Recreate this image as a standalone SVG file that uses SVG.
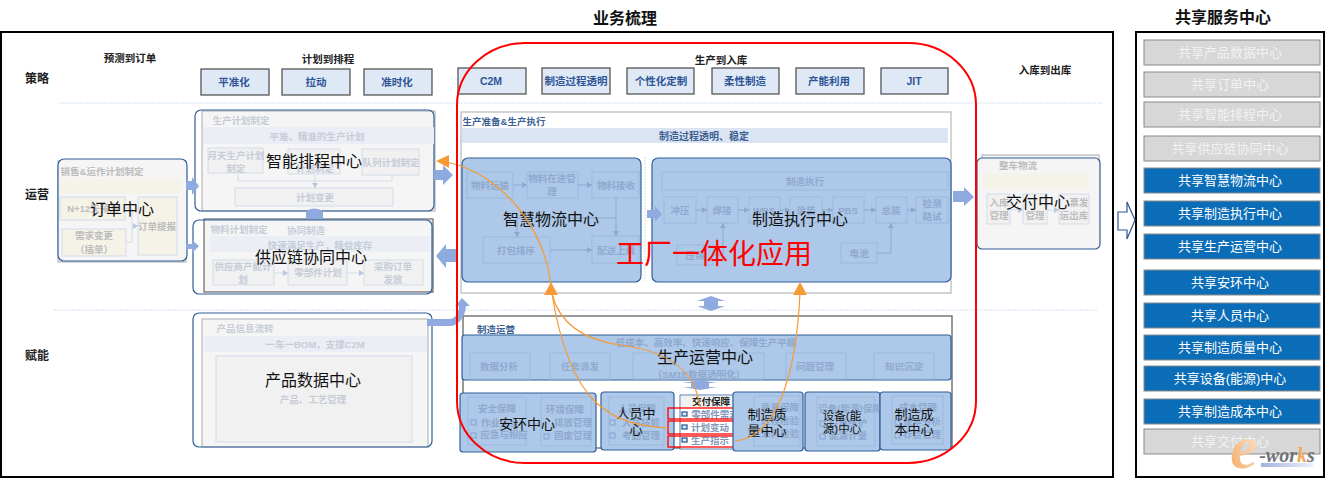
<svg xmlns="http://www.w3.org/2000/svg" width="1325" height="479" viewBox="0 0 1325 479">
<defs>
<marker id="sb" markerUnits="userSpaceOnUse" markerWidth="6" markerHeight="6" refX="5" refY="3" orient="auto"><path d="M0 0L5 3L0 6Z" fill="#8fa8ce"/></marker>
<marker id="sg" markerUnits="userSpaceOnUse" markerWidth="6" markerHeight="6" refX="5" refY="3" orient="auto"><path d="M0 0L5 3L0 6Z" fill="#b9c7df"/></marker>
<linearGradient id="eg" x1="0" y1="1" x2="1" y2="0"><stop offset="0" stop-color="#f4a860"/><stop offset="1" stop-color="#fbe8d8"/></linearGradient>
<linearGradient id="wb" x1="0" y1="0" x2="1" y2="0"><stop offset="0" stop-color="#9fb2e0"/><stop offset="1" stop-color="#eef1fa"/></linearGradient>
</defs>
<style>
text{font-family:"Liberation Sans","Noto Sans CJK SC",sans-serif;text-anchor:middle}
.t{font-size:16px;fill:#111}
.m{font-size:13px;fill:#111}
.h{font-size:10.5px;font-weight:700;fill:#222}
.s{font-size:10.5px;font-weight:700;fill:#2f5597}
.g{font-size:9.5px;font-weight:700;fill:#c6ccd8}
.gd{font-size:9.5px;font-weight:700;fill:#bcbcbc}
.g2{font-size:9.5px;font-weight:700;fill:#8fa8ce}
.dt{font-size:9.5px;font-weight:700;fill:#8296b8}
.sq{fill:#dfe9f6;stroke:#555;stroke-width:1.3}
.pb{fill:#f5f5f5;stroke:#b8b8b8;stroke-width:1.2}
.nb{fill:#f5f5f5;stroke:#2f5f98;stroke-width:1.2}
.nf{fill:none;stroke:#2f5f98;stroke-width:1.2}
.ib{fill:#f1f1f1;stroke:#d3dbe9;stroke-width:1}
.bb{fill:#adc8e8;stroke:#2f5f98;stroke-width:1.2}
.ob{fill:#adc8e8;stroke:#9bb8de;stroke-width:1}
.ck{fill:none;stroke:#86a3cf;stroke-width:1}
.hd{fill:#ebeef4}
.cream{fill:#f5f2e8}
.cb{fill:#f5f2e8;stroke:#d3dbe9}
.dl{stroke:#cfe0f2;stroke-width:1;stroke-dasharray:2 1;fill:none}
.ba{fill:#8eaadf}
.ln{stroke:#d3dbe9;fill:none}
.lb{stroke:#8fa8ce;fill:none}
.gy{fill:#d7d7d7;stroke:#8a8a8a;stroke-width:1}
.bl{fill:#0b6db7;stroke:#8a8a8a;stroke-width:1}
.st{font-size:13px}
.ow{fill:none;stroke:#f79a35;stroke-width:1.2}
.oh{fill:#f79a35}
.rb{fill:none;stroke:#f00;stroke-width:1.3}
.rr{fill:none;stroke:#f00;stroke-width:2}
</style>
<rect width="1325" height="479" fill="#fff"/>
<text x="625" y="24" font-size="16" font-weight="700" fill="#111">业务梳理</text>
<text x="1223" y="23" font-size="16" font-weight="700" fill="#111">共享服务中心</text>
<rect x="1" y="32" width="1112" height="445" fill="none" stroke="#000" stroke-width="2"/>
<rect x="1136" y="32" width="188" height="445" fill="none" stroke="#000" stroke-width="2"/>
<text class="h" x="130" y="62">预测到订单</text><text class="h" x="328" y="63">计划到排程</text><text class="h" x="721" y="64">生产到入库</text><text class="h" x="1045" y="74">入库到出库</text>
<g font-size="12" font-weight="700" fill="#222"><text x="37" y="83">策略</text><text x="37" y="199">运营</text><text x="37" y="360">赋能</text></g>
<path class="dl" d="M59 103H1103M54 310H1098"/>
<g id="strategy">
<rect class="sq" x="201" y="69" width="68" height="26"/><text class="s" x="234" y="86">平准化</text>
<rect class="sq" x="282" y="69" width="68" height="26"/><text class="s" x="316" y="86">拉动</text>
<rect class="sq" x="364" y="69" width="68" height="26"/><text class="s" x="397" y="86">准时化</text>
<rect class="sq" x="458" y="68" width="68" height="26"/><text class="s" x="491" y="85">C2M</text>
<rect class="sq" x="542" y="68" width="68" height="26"/><text class="s" x="576" y="85">制造过程透明</text>
<rect class="sq" x="627" y="68" width="67" height="26"/><text class="s" x="661" y="85">个性化定制</text>
<rect class="sq" x="712" y="68" width="67" height="26"/><text class="s" x="745" y="85">柔性制造</text>
<rect class="sq" x="796" y="68" width="68" height="26"/><text class="s" x="829" y="85">产能利用</text>
<rect class="sq" x="881" y="68" width="67" height="26"/><text class="s" x="914" y="85">JIT</text>
</g>
<g id="order-center">
<rect class="pb" x="58" y="161" width="128" height="101"/>
<rect class="nb" x="58" y="159" width="129" height="102" rx="6"/>
<text class="gd" x="102" y="175">销售&amp;运作计划制定</text>
<rect class="cream" x="60" y="179" width="120" height="15"/>
<rect class="cb" x="60" y="197" width="65" height="23"/><text class="gd" x="93" y="212">N+12天预测</text>
<rect class="cb" x="62" y="229" width="64" height="27"/><text class="gd" x="94" y="239">需求变更</text><text class="gd" x="94" y="253">（插单）</text>
<rect class="cb" x="138" y="197" width="39" height="58"/><text class="gd" x="157" y="230">订单提报</text>
<path class="ln" d="M125 208H132V226M126 242H132V226"/><path class="ln" d="M132 226H138" marker-end="url(#sg)"/>
<text class="t" x="122" y="215">订单中心</text>
</g>
<g id="schedule-center">
<rect class="pb" x="202" y="111" width="233" height="100"/>
<rect class="nf" x="195" y="110" width="239" height="101" rx="6"/>
<text class="g" x="241" y="124">生产计划制定</text>
<rect class="hd" x="203" y="127" width="231" height="17"/><text class="g" x="317" y="140">平准、精准的生产计划</text>
<rect class="ib" x="208" y="148" width="55" height="25"/><text class="g" x="236" y="159">月天生产计划</text><text class="g" x="236" y="172">制定</text>
<rect class="ib" x="288" y="149" width="52" height="25"/><text class="g" x="315" y="172">计划制定</text>
<rect class="ib" x="362" y="149" width="57" height="26"/><text class="g" x="391" y="166">队列计划制定</text>
<rect class="ib" x="235" y="188" width="158" height="18"/><text class="g" x="315" y="201">计划变更</text>
<path class="ln" d="M238 181H392"/>
<path class="ln" d="M238 181V174M315 181V175M392 181V175M315 181V188" marker-end="url(#sg)"/>
<text class="t" x="314" y="167">智能排程中心</text>
</g>
<g id="supply-center">
<rect class="pb" x="204" y="219" width="229" height="73" style="stroke:#666"/>
<rect class="nf" x="193" y="220" width="239" height="74" rx="6"/>
<text class="g" x="239" y="233">物料计划制定</text><text class="g" x="306" y="234">协同制造</text>
<rect class="hd" x="210" y="236" width="220" height="16"/><text class="g" x="320" y="249">快速满足生产，精益库存</text>
<rect class="ib" x="213" y="260" width="61" height="25"/><text class="g" x="243" y="270">供应商产能计</text><text class="g" x="243" y="283">划</text>
<rect class="ib" x="288" y="260" width="59" height="25"/><text class="g" x="318" y="276">零部件计划</text>
<rect class="ib" x="364" y="260" width="59" height="25"/><text class="g" x="393" y="270">采购订单</text><text class="g" x="393" y="283">发放</text>
<path class="ln" d="M274 273H288" marker-end="url(#sg)"/><path class="ln" d="M347 273H364" marker-end="url(#sg)"/>
<text class="t" x="311" y="263">供应链协同中心</text>
</g>
<g id="product-center">
<rect class="pb" x="202" y="319" width="226" height="128"/>
<rect class="nf" x="193" y="313" width="239" height="134" rx="6"/>
<text class="g" x="245" y="332">产品信息流转</text>
<rect class="hd" x="204" y="336" width="223" height="16"/><text class="g" x="315" y="348">一车一BOM，支撑C2M</text>
<rect class="ib" x="216" y="356" width="196" height="86"/>
<text class="t" x="313" y="386">产品数据中心</text>
<text class="g" x="313" y="403">产品、工艺管理</text>
</g>
<g id="delivery-center">
<rect class="pb" x="982" y="155" width="117" height="90"/>
<rect class="nb" x="977" y="158" width="123" height="91" rx="5"/>
<text class="gd" x="1018" y="169">整车物流</text>
<rect class="cream" x="983" y="173" width="105" height="15"/>
<rect class="ib" x="987" y="194" width="23" height="30"/><text class="gd" x="999" y="206">入库</text><text class="gd" x="999" y="219">管理</text>
<rect class="ib" x="1023" y="194" width="24" height="30"/><text class="gd" x="1035" y="219">管理</text>
<rect class="ib" x="1059" y="194" width="30" height="30"/><text class="gd" x="1079" y="206">票发</text><text class="gd" x="1074" y="219">运出库</text>
<path class="ln" d="M1010 210H1023" marker-end="url(#sg)"/><path class="ln" d="M1047 210H1059" marker-end="url(#sg)"/>
<text class="t" x="1038" y="208">交付中心</text>
</g>
<g id="production-exec">
<rect x="461" y="112" width="490" height="181" fill="#fff" stroke="#b8b8b8" stroke-width="1.2"/>
<text font-size="9.5" font-weight="700" fill="#3c5f94" x="504" y="125">生产准备&amp;生产执行</text>
<rect x="462" y="128" width="486" height="15" fill="#dbe4f3"/><text font-size="10" font-weight="700" fill="#3c5f94" x="704" y="140">制造过程透明、稳定</text>
<path class="dl" d="M645 157V281"/>
</g>
<g id="logistics-center">
<rect class="bb" x="462" y="158" width="179" height="124" rx="6"/>
<rect class="ob" x="467" y="172" width="46" height="26"/><rect class="ob" x="527" y="172" width="51" height="26"/><rect class="ob" x="592" y="172" width="47" height="26"/><rect class="ob" x="483" y="237" width="67" height="26"/><rect class="ob" x="592" y="236" width="47" height="27"/>
<text class="g2" x="490" y="189">物料运输</text><text class="g2" x="552" y="182">物料在途管</text><text class="g2" x="552" y="195">理</text><text class="g2" x="616" y="189">物料接收</text><text class="g2" x="516" y="254">打包排序</text><text class="g2" x="616" y="254">配送上线</text>
<path class="lb" d="M513 185H527" marker-end="url(#sb)"/><path class="lb" d="M578 185H592" marker-end="url(#sb)"/><path class="lb" d="M616 198V236" marker-end="url(#sb)"/><path class="lb" d="M616 218H517V237" marker-end="url(#sb)"/><path class="lb" d="M550 250H592" marker-end="url(#sb)"/>
<text class="t" x="551" y="225">智慧物流中心</text>
</g>
<g id="mes-center">
<rect class="bb" x="652" y="158" width="299" height="124" rx="6"/>
<rect class="ob" x="662" y="172" width="286" height="18"/>
<rect class="ob" x="664" y="197" width="32" height="26"/><rect class="ob" x="707" y="197" width="31" height="26"/><rect class="ob" x="749" y="197" width="31" height="26"/><rect class="ob" x="790" y="197" width="32" height="26"/><rect class="ob" x="833" y="197" width="31" height="26"/><rect class="ob" x="876" y="197" width="31" height="26"/><rect class="ob" x="916" y="197" width="32" height="26"/><rect class="ob" x="677" y="245" width="36" height="20"/><rect class="ob" x="841" y="243" width="36" height="20"/>
<text class="g2" x="805" y="185">制造执行</text><text class="g2" x="680" y="214">冲压</text><text class="g2" x="722" y="214">焊接</text><text class="g2" x="764" y="214">WBS</text><text class="g2" x="806" y="214">涂装</text><text class="g2" x="848" y="214">PBS</text><text class="g2" x="891" y="214">总装</text><text class="g2" x="932" y="207">检测</text><text class="g2" x="932" y="220">路试</text><text class="g2" x="695" y="259">压铸</text><text class="g2" x="859" y="257">电池</text>
<path class="lb" d="M696 210H707" marker-end="url(#sb)"/><path class="lb" d="M738 210H749" marker-end="url(#sb)"/><path class="lb" d="M780 210H790" marker-end="url(#sb)"/><path class="lb" d="M822 210H833" marker-end="url(#sb)"/><path class="lb" d="M864 210H876" marker-end="url(#sb)"/><path class="lb" d="M907 210H916" marker-end="url(#sb)"/><path class="lb" d="M713 255H723V223" marker-end="url(#sb)"/><path class="lb" d="M877 253H891V223" marker-end="url(#sb)"/>
<text class="t" x="800" y="225">制造执行中心</text>
</g>
<g id="ops-center">
<rect x="463" y="316" width="489" height="132" fill="#fff" stroke="#555" stroke-width="1.2"/>
<text font-size="9.5" font-weight="700" fill="#3c5f94" x="496" y="333">制造运营</text>
<rect class="bb" x="462" y="335" width="489" height="45" rx="3"/>
<text class="g2" x="706" y="346">低成本、高效率、快速响应、保障生产平顺</text>
<rect class="ob" x="470" y="353" width="60" height="26"/><rect class="ob" x="550" y="353" width="60" height="26"/><rect class="ob" x="633" y="353" width="131" height="26"/><rect class="ob" x="786" y="353" width="60" height="26"/><rect class="ob" x="874" y="353" width="60" height="26"/>
<text class="g2" x="499" y="370">数据分析</text><text class="g2" x="580" y="370">任务派发</text><text class="g2" x="699" y="378">（SM1E数据透明化）</text><text class="g2" x="815" y="370">问题管理</text><text class="g2" x="904" y="370">知识沉淀</text>
<text class="t" x="705" y="363">生产运营中心</text>
</g>
<g id="safety-center">
<rect class="bb" x="460" y="393" width="136" height="59" rx="3"/>
<rect class="ob" x="468" y="397" width="58" height="48"/><rect class="ob" x="541" y="397" width="50" height="49"/>
<rect class="ck" x="471" y="420" width="5" height="5"/><rect class="ck" x="471" y="433" width="5" height="5"/><rect class="ck" x="544" y="434" width="5" height="5"/>
<text class="g2" x="497" y="412">安全保障</text><text class="g2" x="565" y="413">环境保障</text><text class="g2" x="500" y="426">作业安全</text><text class="g2" x="504" y="438">应急与相应</text><text class="g2" x="573" y="426">排放管理</text><text class="g2" x="573" y="439">固废管理</text>
<text font-size="14" fill="#111" x="527" y="429">安环中心</text>
</g>
<g id="people-center">
<rect class="bb" x="601" y="392" width="73" height="58" rx="3"/>
<rect class="ob" x="609" y="397" width="55" height="48"/>
<rect class="ck" x="610" y="420" width="5" height="5"/><rect class="ck" x="610" y="433" width="5" height="5"/>
<text class="g2" x="637" y="412">人员保障</text><text class="g2" x="641" y="426">人员技能</text><text class="g2" x="641" y="439">考勤管理</text>
<text class="m" x="636" y="418">人员中</text><text class="m" x="636" y="434">心</text>
</g>
<g id="delivery-support">
<rect x="680" y="395" width="62" height="54" fill="#fff" stroke="#5f7fae"/>
<rect x="681" y="396" width="52" height="11" fill="#f1f1f1"/>
<text class="h" x="711" y="405" style="font-size:9.5px">交付保障</text>
<text class="dt" x="715" y="418">零部件需求</text><text class="dt" x="710" y="431">计划变动</text><text class="dt" x="710" y="444">生产指示</text>
<g fill="#dfe9f6" stroke="#2f5f98" stroke-width="1.3"><rect x="682" y="412" width="5" height="4"/><rect x="682" y="425" width="5" height="4"/><rect x="682" y="438" width="5" height="4"/></g>
<rect class="rb" x="668" y="408" width="66" height="11"/><rect class="rb" x="668" y="421" width="66" height="13"/><rect class="rb" x="668" y="436" width="66" height="11"/>
</g>
<g id="quality-center">
<rect class="bb" x="733" y="392" width="70" height="59" rx="3"/>
<rect class="ob" x="754" y="396" width="46" height="50"/>
<text class="g2" x="780" y="411">质量保障</text><text class="g2" x="780" y="424">过程检验</text><text class="g2" x="780" y="437">来料检验</text>
<text class="m" x="767" y="419">制造质</text><text class="m" x="767" y="435">量中心</text>
</g>
<g id="equipment-center">
<rect class="bb" x="805" y="392" width="75" height="59" rx="3"/>
<rect class="ob" x="817" y="397" width="58" height="49"/>
<rect class="ck" x="820" y="421" width="5" height="5"/><rect class="ck" x="820" y="434" width="5" height="5"/>
<text class="g2" x="850" y="412">设备(能源)保障</text><text class="g2" x="848" y="426">设备维护</text><text class="g2" x="848" y="439">能源计量</text>
<text font-size="11.5" fill="#111" x="842" y="420">设备(能</text><text font-size="11.5" fill="#111" x="842" y="433">源)中心</text>
</g>
<g id="cost-center">
<rect class="bb" x="880" y="392" width="71" height="58" rx="3"/>
<rect class="ob" x="892" y="396" width="51" height="48"/>
<rect class="ck" x="895" y="420" width="5" height="5"/><rect class="ck" x="895" y="433" width="5" height="5"/>
<text class="g2" x="918" y="411">成本管理</text><text class="g2" x="922" y="425">成本分析</text><text class="g2" x="922" y="438">存货管理</text>
<text class="m" x="914" y="419">制造成</text><text class="m" x="914" y="434">本中心</text>
</g>
<g id="connectors">
<path class="ba" d="M186 181H192V177L199 186L192 195V190H186Z"/>
<path class="ba" d="M186 244H192V240L199 246L192 253V249H186Z"/>
<path class="ba" d="M434 170H443V165L453 175L443 185V180H434Z"/>
<path class="ba" d="M306 211Q314 206 323 211V219H306Z"/>
<path class="ba" d="M436 256L446 244V249H456V262H446V268Z"/>
<path class="ba" d="M953 191H964V187L974 197L964 206V202H953Z"/>
<path class="ba" d="M647 210H655V206L662 214L655 222V218H647Z"/>
<path class="ba" d="M427 319H450V326H427Z"/>
<path class="ba" d="M462 298L470 306H466C465 318 458 326 450 326V319C456 318 459 312 459 306H455Z"/>
<path class="ba" d="M711 296L725 301H718V306H725L711 311L697 306H704V301H697Z"/>
<path class="ba" d="M700 380L717 383H709V387H717L700 390L683 387H691V383H683Z"/>
<path d="M1118 212H1127V202L1135 220L1127 239V230H1118Z" fill="#fff" stroke="#2f5597" stroke-width="1.2"/>
<path class="ow" d="M551 290C548 230 500 172 446 162"/>
<path class="ow" d="M668 428C610 425 570 405 552 294"/>
<path class="ow" d="M700 407C695 365 660 350 620 345C585 340 560 325 552 294"/>
<path class="ow" d="M735 441C775 438 796 380 800 293"/>
<path class="oh" d="M436 161L449 155V168Z"/>
<path class="oh" d="M551 282L558 295H544Z"/>
<path class="oh" d="M800 282L807 295H793Z"/>
</g>
<text x="714" y="264" font-size="28" fill="#f00">工厂一体化应用</text>
<rect class="rr" x="457" y="43" width="519" height="420" rx="68" ry="62"/>
<g id="shared">
<rect class="gy" x="1144" y="40" width="176" height="25"/><text class="st" x="1230" y="57" style="fill:#f2f2f2">共享产品数据中心</text>
<rect class="gy" x="1144" y="72" width="176" height="25"/><text class="st" x="1230" y="89" style="fill:#f2f2f2">共享订单中心</text>
<rect class="gy" x="1144" y="102" width="176" height="25"/><text class="st" x="1230" y="119" style="fill:#f2f2f2">共享智能排程中心</text>
<rect class="gy" x="1144" y="136" width="176" height="25"/><text class="st" x="1230" y="153" style="fill:#f2f2f2">共享供应链协同中心</text>
<rect class="bl" x="1144" y="168" width="176" height="25"/><text class="st" x="1230" y="185" fill="#fff">共享智慧物流中心</text>
<rect class="bl" x="1144" y="201" width="176" height="25"/><text class="st" x="1230" y="218" fill="#fff">共享制造执行中心</text>
<rect class="bl" x="1144" y="234" width="176" height="25"/><text class="st" x="1230" y="251" fill="#fff">共享生产运营中心</text>
<rect class="bl" x="1144" y="270" width="176" height="25"/><text class="st" x="1230" y="287" fill="#fff">共享安环中心</text>
<rect class="bl" x="1144" y="303" width="176" height="25"/><text class="st" x="1230" y="320" fill="#fff">共享人员中心</text>
<rect class="bl" x="1144" y="335" width="176" height="25"/><text class="st" x="1230" y="352" fill="#fff">共享制造质量中心</text>
<rect class="bl" x="1144" y="366" width="176" height="25"/><text class="st" x="1230" y="383" fill="#fff">共享设备(能源)中心</text>
<rect class="bl" x="1144" y="399" width="176" height="25"/><text class="st" x="1230" y="416" fill="#fff">共享制造成本中心</text>
<rect class="gy" x="1144" y="429" width="176" height="25"/><text class="st" x="1230" y="446" style="fill:#f2f2f2">共享交付中心</text>
</g>
<g id="watermark">
<text x="1244" y="468" font-size="62" font-style="italic" font-weight="700" fill="url(#eg)" style="font-family:'Liberation Serif',serif">e</text>
<text x="1287" y="462" font-size="20" font-style="italic" font-weight="700" fill="#6f7378" style="font-family:'Liberation Serif',serif">-wor<tspan fill="#f0a860">k</tspan>s</text>
<rect x="1261" y="463" width="52" height="4" fill="url(#wb)"/>
</g>
</svg>
